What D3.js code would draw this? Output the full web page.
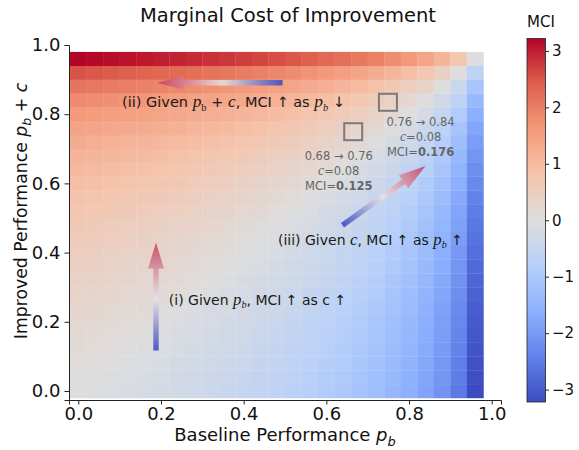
<!DOCTYPE html>
<html>
<head>
<meta charset="utf-8">
<title>Marginal Cost of Improvement</title>
<script src="https://cdn.jsdelivr.net/npm/d3@7"></script>
<style>
  body { margin: 0; background: #fff; }
  svg text { font-family: "DejaVu Sans", sans-serif; fill: #111; }
</style>
</head>
<body>
<div id="chart"></div>
<script>
// grid of performance values (cell centres), step 0.04
var baseline = [0.00, 0.04, 0.08, 0.12, 0.16, 0.20, 0.24, 0.28, 0.32, 0.36, 0.40, 0.44, 0.48,
                0.52, 0.56, 0.60, 0.64, 0.68, 0.72, 0.76, 0.80, 0.84, 0.88, 0.92, 0.96];
var improved = [0.00, 0.04, 0.08, 0.12, 0.16, 0.20, 0.24, 0.28, 0.32, 0.36, 0.40, 0.44, 0.48,
                0.52, 0.56, 0.60, 0.64, 0.68, 0.72, 0.76, 0.80, 0.84, 0.88, 0.92, 0.96];

// MCI per cell: one row per improved value (bottom row first), one column per baseline value
var mci = [
  [0,-0.04,-0.08,-0.13,-0.17,-0.22,-0.27,-0.33,-0.39,-0.45,-0.51,-0.58,-0.65,-0.73,-0.82,-0.92,-1.02,-1.14,-1.27,-1.43,-1.61,-1.83,-2.12,-2.53,-3.22],
  [0.04,0,-0.04,-0.09,-0.13,-0.18,-0.23,-0.29,-0.35,-0.41,-0.47,-0.54,-0.61,-0.69,-0.78,-0.88,-0.98,-1.10,-1.23,-1.39,-1.57,-1.79,-2.08,-2.49,-3.18],
  [0.08,0.04,0,-0.05,-0.09,-0.14,-0.19,-0.25,-0.31,-0.37,-0.43,-0.50,-0.57,-0.65,-0.74,-0.84,-0.94,-1.06,-1.19,-1.35,-1.53,-1.75,-2.04,-2.45,-3.14],
  [0.13,0.09,0.05,0,-0.04,-0.09,-0.14,-0.20,-0.26,-0.32,-0.38,-0.45,-0.52,-0.60,-0.69,-0.79,-0.89,-1.01,-1.14,-1.30,-1.48,-1.70,-1.99,-2.40,-3.09],
  [0.17,0.13,0.09,0.04,0,-0.05,-0.10,-0.16,-0.22,-0.28,-0.34,-0.41,-0.48,-0.56,-0.65,-0.75,-0.85,-0.97,-1.10,-1.26,-1.44,-1.66,-1.95,-2.36,-3.05],
  [0.22,0.18,0.14,0.09,0.05,0,-0.05,-0.11,-0.17,-0.23,-0.29,-0.36,-0.43,-0.51,-0.60,-0.70,-0.80,-0.92,-1.05,-1.21,-1.39,-1.61,-1.90,-2.31,-3.00],
  [0.27,0.23,0.19,0.14,0.10,0.05,0,-0.06,-0.12,-0.18,-0.24,-0.31,-0.38,-0.46,-0.55,-0.65,-0.75,-0.87,-1.00,-1.16,-1.34,-1.56,-1.85,-2.26,-2.95],
  [0.33,0.29,0.25,0.20,0.16,0.11,0.06,0,-0.06,-0.12,-0.18,-0.25,-0.32,-0.40,-0.49,-0.59,-0.69,-0.81,-0.94,-1.10,-1.28,-1.50,-1.79,-2.20,-2.89],
  [0.39,0.35,0.31,0.26,0.22,0.17,0.12,0.06,0,-0.06,-0.12,-0.19,-0.26,-0.34,-0.43,-0.53,-0.63,-0.75,-0.88,-1.04,-1.22,-1.44,-1.73,-2.14,-2.83],
  [0.45,0.41,0.37,0.32,0.28,0.23,0.18,0.12,0.06,0,-0.06,-0.13,-0.20,-0.28,-0.37,-0.47,-0.57,-0.69,-0.82,-0.98,-1.16,-1.38,-1.67,-2.08,-2.77],
  [0.51,0.47,0.43,0.38,0.34,0.29,0.24,0.18,0.12,0.06,0,-0.07,-0.14,-0.22,-0.31,-0.41,-0.51,-0.63,-0.76,-0.92,-1.10,-1.32,-1.61,-2.02,-2.71],
  [0.58,0.54,0.50,0.45,0.41,0.36,0.31,0.25,0.19,0.13,0.07,0,-0.07,-0.15,-0.24,-0.34,-0.44,-0.56,-0.69,-0.85,-1.03,-1.25,-1.54,-1.95,-2.64],
  [0.65,0.61,0.57,0.52,0.48,0.43,0.38,0.32,0.26,0.20,0.14,0.07,0,-0.08,-0.17,-0.27,-0.37,-0.49,-0.62,-0.78,-0.96,-1.18,-1.47,-1.88,-2.57],
  [0.73,0.69,0.65,0.60,0.56,0.51,0.46,0.40,0.34,0.28,0.22,0.15,0.08,0,-0.09,-0.19,-0.29,-0.41,-0.54,-0.70,-0.88,-1.10,-1.39,-1.80,-2.49],
  [0.82,0.78,0.74,0.69,0.65,0.60,0.55,0.49,0.43,0.37,0.31,0.24,0.17,0.09,0,-0.10,-0.20,-0.32,-0.45,-0.61,-0.79,-1.01,-1.30,-1.71,-2.40],
  [0.92,0.88,0.84,0.79,0.75,0.70,0.65,0.59,0.53,0.47,0.41,0.34,0.27,0.19,0.10,0,-0.10,-0.22,-0.35,-0.51,-0.69,-0.91,-1.20,-1.61,-2.30],
  [1.02,0.98,0.94,0.89,0.85,0.80,0.75,0.69,0.63,0.57,0.51,0.44,0.37,0.29,0.20,0.10,0,-0.12,-0.25,-0.41,-0.59,-0.81,-1.10,-1.51,-2.20],
  [1.14,1.10,1.06,1.01,0.97,0.92,0.87,0.81,0.75,0.69,0.63,0.56,0.49,0.41,0.32,0.22,0.12,0,-0.13,-0.29,-0.47,-0.69,-0.98,-1.39,-2.08],
  [1.27,1.23,1.19,1.14,1.10,1.05,1.00,0.94,0.88,0.82,0.76,0.69,0.62,0.54,0.45,0.35,0.25,0.13,0,-0.16,-0.34,-0.56,-0.85,-1.26,-1.95],
  [1.43,1.39,1.35,1.30,1.26,1.21,1.16,1.10,1.04,0.98,0.92,0.85,0.78,0.70,0.61,0.51,0.41,0.29,0.16,0,-0.18,-0.40,-0.69,-1.10,-1.79],
  [1.61,1.57,1.53,1.48,1.44,1.39,1.34,1.28,1.22,1.16,1.10,1.03,0.96,0.88,0.79,0.69,0.59,0.47,0.34,0.18,0,-0.22,-0.51,-0.92,-1.61],
  [1.83,1.79,1.75,1.70,1.66,1.61,1.56,1.50,1.44,1.38,1.32,1.25,1.18,1.10,1.01,0.91,0.81,0.69,0.56,0.40,0.22,0,-0.29,-0.70,-1.39],
  [2.12,2.08,2.04,1.99,1.95,1.90,1.85,1.79,1.73,1.67,1.61,1.54,1.47,1.39,1.30,1.20,1.10,0.98,0.85,0.69,0.51,0.29,0,-0.41,-1.10],
  [2.53,2.49,2.45,2.40,2.36,2.31,2.26,2.20,2.14,2.08,2.02,1.95,1.88,1.80,1.71,1.61,1.51,1.39,1.26,1.10,0.92,0.70,0.41,0,-0.69],
  [3.22,3.18,3.14,3.09,3.05,3.00,2.95,2.89,2.83,2.77,2.71,2.64,2.57,2.49,2.40,2.30,2.20,2.08,1.95,1.79,1.61,1.39,1.10,0.69,0]
];

var xTicks = [0.0, 0.2, 0.4, 0.6, 0.8, 1.0];
var yTicks = [0.0, 0.2, 0.4, 0.6, 0.8, 1.0];
var cbTicks = [-3, -2, -1, 0, 1, 2, 3];
var mciLimit = 3.22;

// the two highlighted examples
var boxFrom = [0.68, 0.76];
var boxTo = [0.76, 0.84];
var boxC = [0.08, 0.08];
var boxMci = ["0.125", "0.176"];

var W = 579, H = 450;
var cellHalf = 0.02;

var svg = d3.select("#chart").append("svg")
  .attr("width", W).attr("height", H);

svg.append("rect").attr("width", W).attr("height", H).attr("fill", "#fff");

var x = d3.scaleLinear().domain([-0.0225, 1.0225]).range([69, 501]);
var y = d3.scaleLinear().domain([-0.026, 1.0]).range([400, 45]);

// matplotlib "coolwarm"
var cwStops = ["#3b4cc0", "#6282ea", "#8db0fe", "#b8d0f9", "#dddddd",
               "#f5c4ac", "#f49a7b", "#de604d", "#b40426"];
var color = d3.scaleLinear()
  .domain(d3.range(cwStops.length).map(function(i) { return -mciLimit + i * 2 * mciLimit / (cwStops.length - 1); }))
  .range(cwStops)
  .interpolate(d3.interpolateRgb)
  .clamp(true);

// heatmap cells
var cells = [];
improved.forEach(function(p, i) {
  baseline.forEach(function(pb, j) {
    cells.push({pb: pb, p: p, v: mci[i][j]});
  });
});

svg.append("g").selectAll("rect")
  .data(cells).enter().append("rect")
  .attr("x", function(d) { return x(d.pb - cellHalf); })
  .attr("y", function(d) { return y(d.p + cellHalf); })
  .attr("width", function(d) { return x(d.pb + cellHalf) - x(d.pb - cellHalf) + 0.3; })
  .attr("height", function(d) { return y(d.p - cellHalf) - y(d.p + cellHalf) + 0.3; })
  .attr("fill", function(d) { return color(d.v); });

// axes
var xAxis = svg.append("g").attr("transform", "translate(0,400)")
  .call(d3.axisBottom(x).tickValues(xTicks).tickFormat(d3.format(".1f")).tickSizeOuter(0).tickSize(4.5).tickPadding(3));
var yAxis = svg.append("g").attr("transform", "translate(69,0)")
  .call(d3.axisLeft(y).tickValues(yTicks).tickFormat(d3.format(".1f")).tickSizeOuter(0).tickSize(4.5).tickPadding(4));

[xAxis, yAxis].forEach(function(a) {
  a.selectAll("text").attr("font-size", 18).attr("font-family", "DejaVu Sans").attr("fill", "#111");
  a.selectAll("line").attr("stroke", "#222");
  a.select(".domain").attr("stroke", "#222").attr("stroke-width", 1);
});

// rich text helper: segments with optional math italic / subscript / bold
function rich(parent, px, py, segs, opt) {
  var size = opt.size;
  var t = parent.append("text").attr("x", px).attr("y", py)
    .attr("font-size", size)
    .attr("font-family", opt.font)
    .attr("text-anchor", opt.anchor || "start")
    .style("fill", opt.fill || "#111");
  if (opt.rotate) t.attr("transform", "rotate(-90," + px + "," + py + ")");
  var shifted = 0;
  segs.forEach(function(s) {
    var ts = t.append("tspan").text(s.t);
    if (s.math) {
      ts.attr("font-family", opt.mathFont || opt.font)
        .attr("font-style", s.up ? "normal" : "italic");
      if (opt.mathScale) ts.attr("font-size", size * opt.mathScale);
    }
    if (s.bold) ts.attr("font-weight", "bold");
    if (s.sub) {
      ts.attr("font-size", size * 0.72);
      if (!shifted) { shifted = size * 0.25; ts.attr("dy", shifted); }
    } else if (shifted) {
      ts.attr("dy", -shifted); shifted = 0;
    }
  });
  return t;
}

// title and axis labels
svg.append("text").attr("x", 288).attr("y", 22).attr("text-anchor", "middle")
  .attr("font-size", 19.5).text("Marginal Cost of Improvement");

rich(svg, 285, 441, [{t: "Baseline Performance "}, {t: "p", math: true}, {t: "b", math: true, sub: true}],
  {size: 18, font: "DejaVu Sans", anchor: "middle"});

rich(svg, 27, 211, [{t: "Improved Performance "}, {t: "p", math: true}, {t: "b", math: true, sub: true},
  {t: " + "}, {t: "c", math: true}],
  {size: 17.3, font: "DejaVu Sans", anchor: "middle", rotate: true});

// colour bar
var cbX = 527, cbW = 18.5;
var cy = d3.scaleLinear().domain([-mciLimit, mciLimit]).range([402, 38.5]);
var grad = svg.append("defs").append("linearGradient").attr("id", "cbgrad")
  .attr("x1", 0).attr("y1", 1).attr("x2", 0).attr("y2", 0);
d3.range(0, 1.0001, 1 / 32).forEach(function(f) {
  grad.append("stop").attr("offset", f).attr("stop-color", color(-mciLimit + f * 2 * mciLimit));
});
svg.append("rect").attr("x", cbX).attr("y", cy(mciLimit)).attr("width", cbW)
  .attr("height", cy(-mciLimit) - cy(mciLimit)).attr("fill", "url(#cbgrad)")
  .attr("stroke", "#222").attr("stroke-width", 0.8);
var cbAxis = svg.append("g").attr("transform", "translate(" + (cbX + cbW) + ",0)")
  .call(d3.axisRight(cy).tickValues(cbTicks).tickFormat(d3.format("d")).tickSize(3.5).tickPadding(3).tickSizeOuter(0));
cbAxis.select(".domain").remove();
cbAxis.selectAll("text").attr("font-size", 15).attr("font-family", "DejaVu Sans").attr("fill", "#111");
cbAxis.selectAll("line").attr("stroke", "#222");
svg.append("text").attr("x", 541).attr("y", 27).attr("text-anchor", "middle")
  .attr("font-size", 15).text("MCI");

// gradient arrows (tail blue -> tip red)
var defs = svg.select("defs");
function arrow(id, pb1, p1, pb2, p2, hl, hw) {
  var x1 = x(pb1), y1 = y(p1), x2 = x(pb2), y2 = y(p2);
  var dx = x2 - x1, dy = y2 - y1, L = Math.sqrt(dx * dx + dy * dy);
  var ux = dx / L, uy = dy / L, nx = -uy, ny = ux, sw = 2.7;
  var bx = x2 - ux * hl, by = y2 - uy * hl;
  var pts = [
    [x1 + nx * sw, y1 + ny * sw], [bx + nx * sw, by + ny * sw], [bx + nx * hw, by + ny * hw],
    [x2, y2], [bx - nx * hw, by - ny * hw], [bx - nx * sw, by - ny * sw], [x1 - nx * sw, y1 - ny * sw]
  ];
  var g = defs.append("linearGradient").attr("id", id).attr("gradientUnits", "userSpaceOnUse")
    .attr("x1", x1).attr("y1", y1).attr("x2", x2).attr("y2", y2);
  g.append("stop").attr("offset", 0).attr("stop-color", "#3444c0");
  g.append("stop").attr("offset", 0.48).attr("stop-color", "#e8e2e2");
  g.append("stop").attr("offset", 1).attr("stop-color", "#c43a5c");
  svg.append("path").attr("d", d3.line()(pts) + "Z")
    .attr("fill", "url(#" + id + ")").attr("opacity", 0.85);
}
arrow("arr1", 0.188, 0.117, 0.188, 0.429, 26, 8);
arrow("arr2", 0.494, 0.891, 0.191, 0.891, 26, 7);
arrow("arr3", 0.639, 0.479, 0.840, 0.650, 27, 8);

var annFont = "Open Sans", mathFont = "Liberation Serif";

rich(svg, x(0.106), y(0.820), [
  {t: "(ii) Given "}, {t: "p", math: true}, {t: "b", math: true, up: true, sub: true},
  {t: " + "}, {t: "c", math: true}, {t: ", MCI ↑ as "}, {t: "p", math: true},
  {t: "b", math: true, sub: true}, {t: " ↓"}
], {size: 14.5, font: annFont, mathFont: mathFont, mathScale: 1.2, fill: "#1a1a1a"});

rich(svg, x(0.219), y(0.249), [
  {t: "(i) Given "}, {t: "p", math: true}, {t: "b", math: true, sub: true}, {t: ", MCI ↑ as c ↑"}
], {size: 14, font: annFont, mathFont: mathFont, mathScale: 1.2, fill: "#1a1a1a"});

rich(svg, x(0.483), y(0.423), [
  {t: "(iii) Given "}, {t: "c", math: true}, {t: ", MCI ↑ as "}, {t: "p", math: true},
  {t: "b", math: true, sub: true}, {t: " ↑"}
], {size: 14, font: annFont, mathFont: mathFont, mathScale: 1.2, fill: "#1a1a1a"});

// highlight squares with their notes
var boxPos = [[0.665, 0.748], [0.749, 0.833]];
var notePos = [[0.630, 0.669], [0.828, 0.767]];
var boxSize = 18;
boxFrom.forEach(function(f, i) {
  svg.append("rect")
    .attr("x", x(boxPos[i][0]) - boxSize / 2).attr("y", y(boxPos[i][1]) - boxSize / 2)
    .attr("width", boxSize).attr("height", boxSize - 1)
    .attr("fill", "none").attr("stroke", "#7a7a7a").attr("stroke-width", 2);
  var nx = x(notePos[i][0]), ny = y(notePos[i][1]);
  var o = {size: 11.5, font: annFont, mathFont: mathFont, mathScale: 1.2, anchor: "middle", fill: "#666"};
  rich(svg, nx, ny, [{t: f.toFixed(2) + " → " + boxTo[i].toFixed(2)}], o);
  rich(svg, nx, ny + 15, [{t: "c", math: true}, {t: "=" + boxC[i].toFixed(2)}], o);
  rich(svg, nx, ny + 30, [{t: "MCI="}, {t: boxMci[i], bold: true}], o);
});
</script>
</body>
</html>
